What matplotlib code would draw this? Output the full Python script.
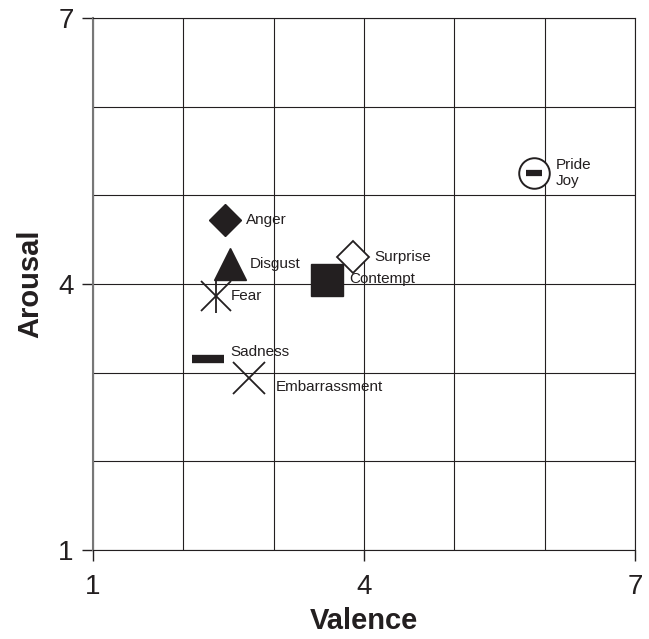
import matplotlib.pyplot as plt

plt.rcParams['font.family'] = ['Liberation Sans', 'DejaVu Sans']

# emotion positions (valence, arousal)
emotions = ['Anger', 'Disgust', 'Fear', 'Contempt', 'Surprise', 'Sadness', 'Embarrassment', 'Pride/Joy']
valence = [2.46, 2.52, 2.36, 3.59, 3.88, 2.27, 2.73, 5.88]
arousal = [4.72, 4.22, 3.86, 4.04, 4.30, 3.15, 2.94, 5.25]

# label positions (valence, arousal)
label_x = [2.69, 2.74, 2.53, 3.84, 4.11, 2.52, 3.02, 6.12]
label_y = [4.72, 4.23, 3.86, 4.06, 4.30, 3.23, 2.84, 5.25]
label_text = ['Anger', 'Disgust', 'Fear', 'Contempt', 'Surprise', 'Sadness', 'Embarrassment', 'Pride\nJoy']

fig = plt.figure(figsize=(6.49, 6.39), dpi=100)
ax = fig.add_axes([0.1433, 0.1393, 0.8351, 0.8326])

k = '#231f20'
# Anger - filled diamond
ax.plot(valence[0], arousal[0], 'D', ms=16, color=k, mec=k)
# Disgust - filled triangle
ax.plot(valence[1], arousal[1], '^', ms=23, color=k, mec=k)
# Fear - x with vertical bar
ax.plot(valence[2], arousal[2], 'x', ms=21, mec=k, mew=1.3)
ax.plot(valence[2], arousal[2], '|', ms=25, mec=k, mew=1.3)
# Contempt - filled square
ax.plot(valence[3], arousal[3], 's', ms=23, color=k, mec=k)
# Surprise - open diamond
ax.plot(valence[4], arousal[4], 'D', ms=16, mfc='white', mec=k, mew=1.3)
# Sadness - thick dash
ax.plot(valence[5], arousal[5], '_', ms=23, mec=k, mew=6)
# Embarrassment - x
ax.plot(valence[6], arousal[6], 'x', ms=23, mec=k, mew=1.3)
# Pride / Joy - circle with dash
ax.plot(valence[7], arousal[7], 'o', ms=22, mfc='white', mec=k, mew=1.4)
ax.plot(valence[7], arousal[7], '_', ms=11, mec=k, mew=4.5)

for tx, ty, t in zip(label_x, label_y, label_text):
    ax.text(tx, ty, t, fontsize=11, ha='left', va='center', color=k, linespacing=1.15)

ax.set_xlim(1, 7)
ax.set_ylim(1, 7)
ax.set_xticks([1, 4, 7])
ax.set_yticks([1, 4, 7])
ax.set_xticks(range(1, 8), minor=True)
ax.set_yticks(range(1, 8), minor=True)
ax.grid(True, which='both', color=k, linewidth=0.8)
ax.tick_params(which='major', labelsize=20, length=8, width=1, color=k, labelcolor=k)
ax.tick_params(axis='x', which='major', pad=9)
ax.tick_params(axis='y', which='major', pad=6)
ax.tick_params(which='minor', length=0)
for s in ax.spines.values():
    s.set_color(k)
    s.set_linewidth(0.8)
ax.spines['left'].set_color('#777777')
ax.spines['left'].set_linewidth(1.5)

ax.set_xlabel('Valence', fontsize=21, fontweight='bold', color=k, labelpad=5)
ax.set_ylabel('Arousal', fontsize=21, fontweight='bold', color=k, labelpad=10)

fig.savefig('out.png', dpi=100)
